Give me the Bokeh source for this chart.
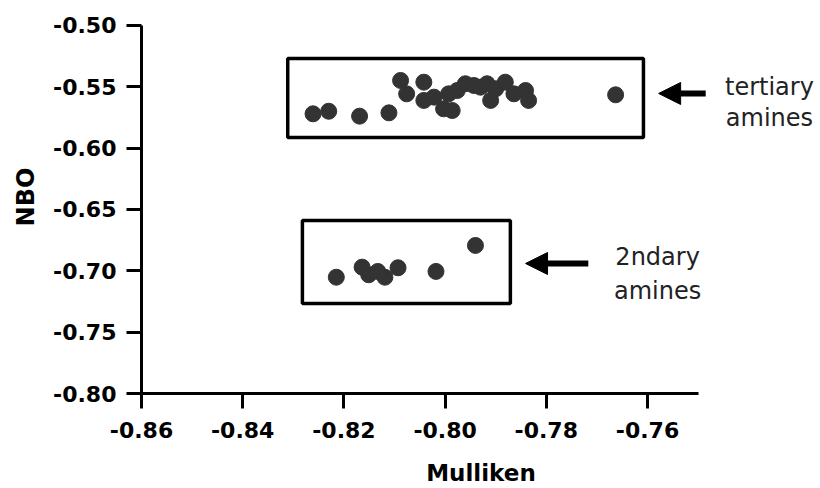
from bokeh.plotting import figure
from bokeh.models import FixedTicker, Arrow, NormalHead, ColumnDataSource
from bokeh.core.properties import value
from bokeh.embed import file_html
from bokeh.resources import INLINE

# ---- data ----
tert_mulliken = [-0.8261, -0.8230, -0.8169, -0.8111, -0.8088, -0.8076, -0.8042, -0.8042,
                 -0.8022, -0.8003, -0.7986, -0.7993, -0.7976, -0.7960, -0.7943, -0.7930,
                 -0.7917, -0.7910, -0.7900, -0.7881, -0.7864, -0.7841, -0.7835, -0.7663]
tert_nbo = [-0.5720, -0.5699, -0.5739, -0.5712, -0.5448, -0.5557, -0.5462, -0.5611,
            -0.5584, -0.5679, -0.5693, -0.5557, -0.5530, -0.5475, -0.5489, -0.5503,
            -0.5475, -0.5611, -0.5516, -0.5462, -0.5557, -0.5530, -0.5611, -0.5565]
sec_mulliken = [-0.8215, -0.8164, -0.8151, -0.8133, -0.8119, -0.8093, -0.8018, -0.7940]
sec_nbo = [-0.7052, -0.6970, -0.7032, -0.7005, -0.7052, -0.6975, -0.7005, -0.6793]

x_ticks = [-0.86, -0.84, -0.82, -0.80, -0.78, -0.76]
x_tick_labels = ["-0.86", "-0.84", "-0.82", "-0.80", "-0.78", "-0.76"]
y_ticks = [-0.80, -0.75, -0.70, -0.65, -0.60, -0.55, -0.50]
y_tick_labels = ["-0.80", "-0.75", "-0.70", "-0.65", "-0.60", "-0.55", "-0.50"]

# group boxes (left, right, top, bottom)
box_left = [-0.8311, -0.8282]
box_right = [-0.7608, -0.7871]
box_top = [-0.5269, -0.6590]
box_bottom = [-0.5913, -0.7266]

# arrows (tail -> tip)
arrow_x_start = [-0.7485, -0.7717]
arrow_x_end = [-0.7578, -0.7841]
arrow_y = [-0.5554, -0.6940]

# group labels
label_text = ["tertiary", "amines", "2ndary", "amines"]
label_x = [-0.7359, -0.7359, -0.7580, -0.7580]
label_y = [-0.5505, -0.5758, -0.6891, -0.7168]

FONT_B = "DejaVu Sans"

p = figure(width=820, height=488, output_backend="svg", toolbar_location=None,
           x_range=(-0.86, -0.72581), y_range=(-0.80, -0.47962),
           min_border_left=141, min_border_right=0, min_border_top=0,
           min_border_bottom=95)
p.outline_line_color = None
p.grid.visible = False
p.background_fill_color = "white"
p.border_fill_color = "white"

for ax in (p.xaxis[0], p.yaxis[0]):
    ax.axis_line_width = 3
    ax.axis_line_color = "black"
    ax.major_tick_line_width = 3
    ax.major_tick_line_color = "black"
    ax.major_tick_out = 15
    ax.major_tick_in = 0
    ax.minor_tick_line_color = None
    ax.major_label_text_font = FONT_B
    ax.major_label_text_font_style = "bold"
    ax.major_label_text_font_size = "22px"
    ax.major_label_text_color = "black"
    ax.axis_label_text_font = FONT_B
    ax.axis_label_text_font_style = "bold"
    ax.axis_label_text_color = "black"

p.xaxis[0].ticker = FixedTicker(ticks=x_ticks)
p.xaxis[0].major_label_overrides = dict(zip(x_ticks, x_tick_labels))
p.xaxis[0].bounds = (-0.86, -0.75)
p.xaxis[0].axis_label = "Mulliken"
p.xaxis[0].axis_label_text_font_size = "23px"
p.xaxis[0].major_label_standoff = 13
p.xaxis[0].axis_label_standoff = 19

p.yaxis[0].ticker = FixedTicker(ticks=y_ticks)
p.yaxis[0].major_label_overrides = dict(zip(y_ticks, y_tick_labels))
p.yaxis[0].bounds = (-0.80, -0.50)
p.yaxis[0].axis_label = "NBO"
p.yaxis[0].axis_label_text_font_size = "24px"
p.yaxis[0].major_label_standoff = 10
p.yaxis[0].axis_label_standoff = 10

# boxes
p.quad(left=box_left, right=box_right, top=box_top, bottom=box_bottom,
       fill_alpha=0, line_color="black", line_width=3.5)

# points
p.scatter(tert_mulliken, tert_nbo, size=16, fill_color="#333333", line_color="#333333")
p.scatter(sec_mulliken, sec_nbo, size=16, fill_color="#333333", line_color="#333333")

# arrows
for xs, xe, yy in zip(arrow_x_start, arrow_x_end, arrow_y):
    p.add_layout(Arrow(end=NormalHead(size=22, fill_color="black", line_color="black"),
                       x_start=xs, y_start=yy, x_end=xe, y_end=yy,
                       line_width=6, line_color="black"))

# labels
src = ColumnDataSource(dict(x=label_x, y=label_y, t=label_text))
p.text(x="x", y="y", text="t", source=src, text_font=value("DejaVu Sans"),
       text_font_size="24px", text_align="center", text_baseline="alphabetic",
       text_color="#222222")

open("out.html", "w").write(file_html(p, INLINE))
